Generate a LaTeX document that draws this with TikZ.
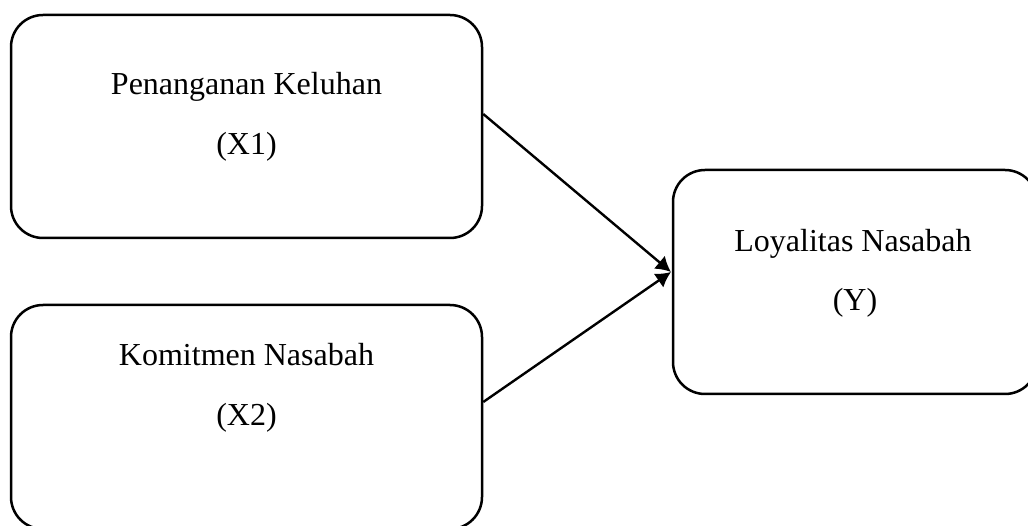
\documentclass[tikz,border=0pt]{standalone}
\usepackage{fontspec}
\setmainfont{Liberation Serif}
\usetikzlibrary{arrows.meta}
\begin{document}
\begin{tikzpicture}[x=1pt,y=-1pt,
  box/.style={draw=black, line width=2.5pt, rounded corners=32pt, inner sep=0pt},
  lbl/.style={anchor=base, inner sep=0pt, font=\fontsize{32}{38}\selectfont},
  arr/.style={line width=2.4pt, -{Latex[length=15pt,width=17pt]}}]
\useasboundingbox (0,0) rectangle (1028,526);
\node[box, minimum width=471pt, minimum height=223pt] (x1) at (246.5,126.5) {};
\node[box, minimum width=471pt, minimum height=224pt] (x2) at (246.5,417) {};
\node[box, minimum width=364pt, minimum height=224pt] (y) at (855,282) {};
\node[lbl] (t1a) at (246.5,95) {Penanganan Keluhan};
\node[lbl] (t1b) at (246.5,155) {(X1)};
\node[lbl] (t2a) at (246.5,366) {Komitmen Nasabah};
\node[lbl] (t2b) at (246.5,425) {(X2)};
\node[lbl] (t3a) at (853,252) {Loyalitas Nasabah};
\node[lbl] (t3b) at (855,311) {(Y)};
\coordinate (tip) at (671,272);
\draw[arr] ([yshift=12.5pt]x1.east) -- (tip);
\draw[arr] ([yshift=15pt]x2.east) -- (tip);
\end{tikzpicture}
\end{document}
